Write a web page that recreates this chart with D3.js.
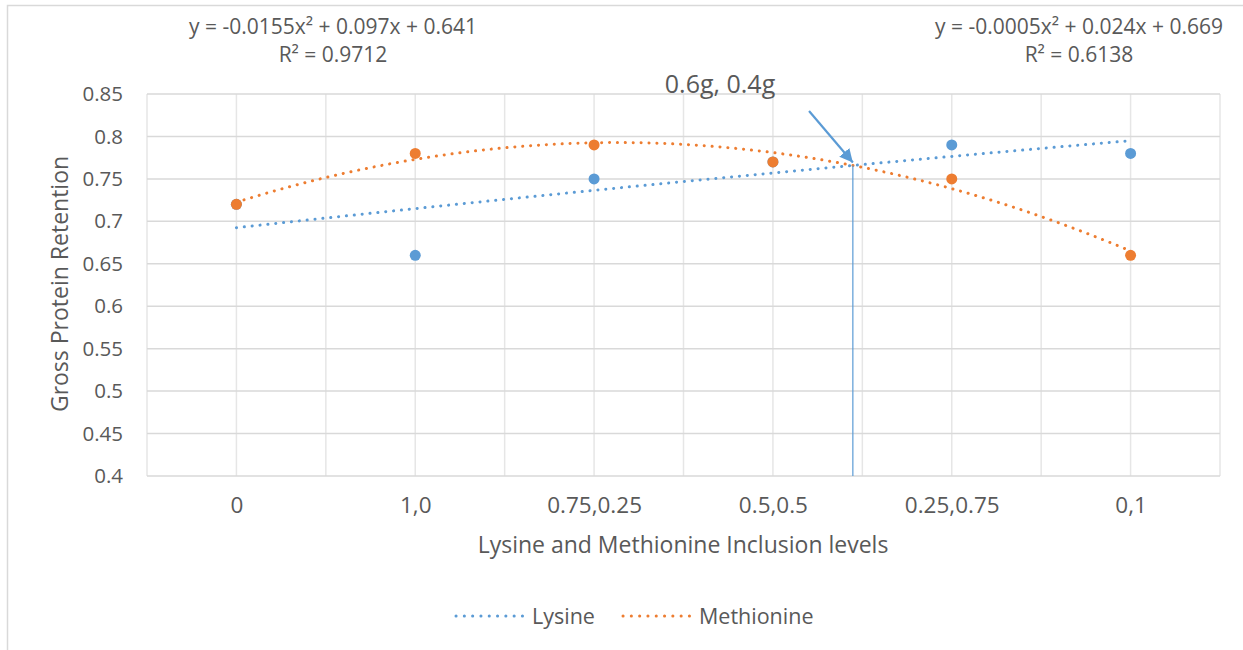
<!DOCTYPE html>
<html>
<head>
<meta charset="utf-8">
<script src="https://cdn.jsdelivr.net/npm/d3@7"></script>
<style>
    body { margin: 0; background: #fff; }
    text { font-family: "Open Sans", sans-serif; fill: #595959; }
</style>
</head>
<body>
<div id="chart"></div>
<script>
// category labels and values
var categories = ["0", "1,0", "0.75,0.25", "0.5,0.5", "0.25,0.75", "0,1"];
var lysine = [0.72, 0.66, 0.75, 0.77, 0.79, 0.78];
var methionine = [0.72, 0.78, 0.79, 0.77, 0.75, 0.66];
// polynomial trendline coefficients [a, b, c] for y = ax^2 + bx + c
var lysineTrend = [-0.0005, 0.024, 0.669];
var methionineTrend = [-0.0155, 0.097, 0.641];
var lysineEq = ["y = -0.0005x² + 0.024x + 0.669", "R² = 0.6138"];
var methionineEq = ["y = -0.0155x² + 0.097x + 0.641", "R² = 0.9712"];
var yTicks = [0.4, 0.45, 0.5, 0.55, 0.6, 0.65, 0.7, 0.75, 0.8, 0.85];
var annotation = "0.6g, 0.4g";

var width = 1243, height = 650;
var blue = "#5b9bd5", orange = "#ed7d31";

var svg = d3.select("#chart")
    .append("svg")
    .attr("width", width)
    .attr("height", height);

// chart border (only top and left visible)
svg.append("path")
    .attr("d", "M7.5," + height + "V5.5H" + width)
    .attr("fill", "none")
    .attr("stroke", "#d9d9d9")
    .attr("stroke-width", 1.5);

var x = d3.scaleLinear().domain([0.5, 6.5]).range([147, 1220]);
var y = d3.scaleLinear().domain([0.4, 0.85]).range([476, 94]);

// gridlines
var xGrid = d3.range(0.5, 6.51, 0.5);
svg.append("g").selectAll("line")
    .data(xGrid)
    .enter().append("line")
    .attr("x1", function(d) { return x(d) })
    .attr("x2", function(d) { return x(d) })
    .attr("y1", y(0.85))
    .attr("y2", y(0.4))
    .attr("stroke", "#e6e6e6")
    .attr("stroke-width", 1.5);

svg.append("g").selectAll("line")
    .data(yTicks)
    .enter().append("line")
    .attr("x1", x(0.5))
    .attr("x2", x(6.5))
    .attr("y1", function(d) { return y(d) })
    .attr("y2", function(d) { return y(d) })
    .attr("stroke", "#d9d9d9")
    .attr("stroke-width", 1.5);

// y axis labels
var yAxis = d3.axisLeft(y)
    .tickValues(yTicks)
    .tickSize(0)
    .tickPadding(24)
    .tickFormat(function(d) { return String(+d.toFixed(2)) });
svg.append("g")
    .attr("transform", "translate(" + x(0.5) + ",0)")
    .call(yAxis)
    .call(function(g) { g.select(".domain").remove() })
    .selectAll("text")
    .attr("font-size", 20.5)
    .attr("font-family", "Open Sans")
    .attr("fill", "#595959");

// x axis labels
var xAxis = d3.axisBottom(x)
    .tickValues(d3.range(1, categories.length + 1))
    .tickSize(0)
    .tickPadding(21)
    .tickFormat(function(d) { return categories[d - 1] });
svg.append("g")
    .attr("transform", "translate(0," + y(0.4) + ")")
    .call(xAxis)
    .call(function(g) { g.select(".domain").remove() })
    .selectAll("text")
    .attr("font-size", 22.5)
    .attr("font-family", "Open Sans")
    .attr("fill", "#595959");

// axis titles
svg.append("text")
    .attr("x", 683)
    .attr("y", 553)
    .attr("text-anchor", "middle")
    .attr("font-size", 23)
    .text("Lysine and Methionine Inclusion levels");

svg.append("text")
    .attr("transform", "translate(68,284) rotate(-90)")
    .attr("text-anchor", "middle")
    .attr("font-size", 23)
    .text("Gross Protein Retention");

// trendlines
function trendPoints(c) {
    return d3.range(1, 6.001, 0.05).map(function(t) {
        return [t, c[0] * t * t + c[1] * t + c[2]];
    });
}
var line = d3.line()
    .x(function(d) { return x(d[0]) })
    .y(function(d) { return y(d[1]) })
    .curve(d3.curveMonotoneX);

function drawTrend(coeffs, color) {
    svg.append("path")
        .datum(trendPoints(coeffs))
        .attr("d", line)
        .attr("fill", "none")
        .attr("stroke", color)
        .attr("stroke-width", 3)
        .attr("stroke-linecap", "round")
        .attr("stroke-dasharray", "0.1 7.8");
}

function drawPoints(values, color) {
    svg.append("g").selectAll("circle")
        .data(values)
        .enter().append("circle")
        .attr("cx", function(d, i) { return x(i + 1) })
        .attr("cy", function(d) { return y(d) })
        .attr("r", 5.5)
        .attr("fill", color);
}

drawPoints(lysine, blue);
drawPoints(methionine, orange);
drawTrend(lysineTrend, blue);
drawTrend(methionineTrend, orange);

// intersection annotation
var ix = 4.447;
var iy = lysineTrend[0] * ix * ix + lysineTrend[1] * ix + lysineTrend[2];

svg.append("line")
    .attr("x1", x(ix))
    .attr("x2", x(ix))
    .attr("y1", y(iy))
    .attr("y2", y(0.4))
    .attr("stroke", blue)
    .attr("stroke-width", 1.2);

svg.append("defs").append("marker")
    .attr("id", "arrow")
    .attr("viewBox", "0 0 10 10")
    .attr("refX", 10)
    .attr("refY", 5)
    .attr("markerWidth", 6)
    .attr("markerHeight", 6)
    .attr("markerUnits", "strokeWidth")
    .attr("orient", "auto")
    .append("path")
    .attr("d", "M0,0L10,5L0,10z")
    .attr("fill", blue);

svg.append("line")
    .attr("x1", x(4.202))
    .attr("y1", y(0.83))
    .attr("x2", x(ix))
    .attr("y2", y(iy) - 3)
    .attr("stroke", blue)
    .attr("stroke-width", 2.2)
    .attr("marker-end", "url(#arrow)");

svg.append("text")
    .attr("x", 720)
    .attr("y", 93)
    .attr("text-anchor", "middle")
    .attr("font-size", 25)
    .text(annotation);

// equation labels
function drawEq(lines, cx) {
    svg.append("g").selectAll("text")
        .data(lines)
        .enter().append("text")
        .attr("x", cx)
        .attr("y", function(d, i) { return 34 + i * 28 })
        .attr("text-anchor", "middle")
        .attr("font-size", 21)
        .text(function(d) { return d });
}
drawEq(methionineEq, 333);
drawEq(lysineEq, 1079);

// legend
var legendItems = [
    { name: "Lysine", color: blue, x: 455 },
    { name: "Methionine", color: orange, x: 622 }
];
var legend = svg.append("g").selectAll("g")
    .data(legendItems)
    .enter().append("g")
    .attr("transform", function(d) { return "translate(" + d.x + ",616)" });

legend.append("line")
    .attr("x1", 1)
    .attr("x2", 68)
    .attr("stroke", function(d) { return d.color })
    .attr("stroke-width", 3)
    .attr("stroke-linecap", "round")
    .attr("stroke-dasharray", "0.1 8.2");

legend.append("text")
    .attr("x", 77)
    .attr("y", 8)
    .attr("font-size", 21.5)
    .text(function(d) { return d.name });
</script>
</body>
</html>
